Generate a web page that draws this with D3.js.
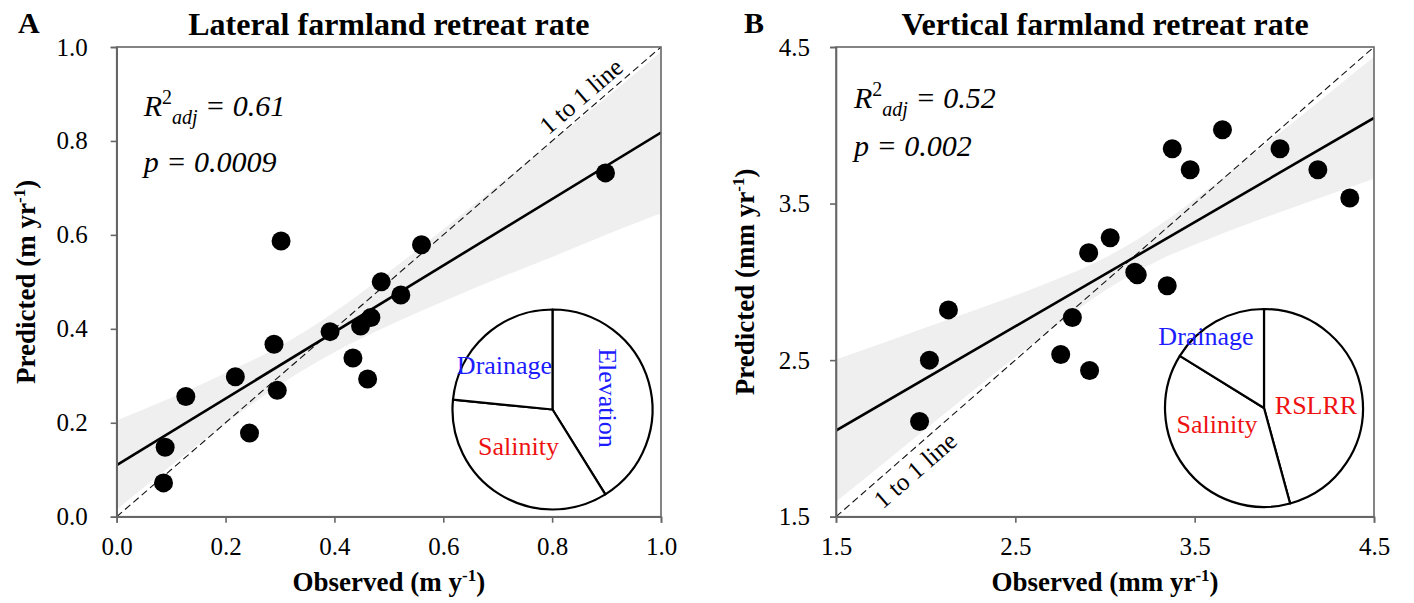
<!DOCTYPE html>
<html>
<head>
<meta charset="utf-8">
<script src="https://cdnjs.cloudflare.com/ajax/libs/d3/7.8.5/d3.min.js"></script>
<style>
  body { margin: 0; background: #fff; }
  svg { display: block; }
  text { font-family: "Liberation Serif", "Times New Roman", Times, "DejaVu Serif", serif; }
</style>
</head>
<body>
<svg id="chart" width="1414" height="603"></svg>
<script>
// ---- panel A: lateral retreat (m/yr) ----
let latObs  = [0.086, 0.089, 0.127, 0.218, 0.244, 0.289, 0.295, 0.302, 0.392, 0.434, 0.448, 0.461, 0.467, 0.486, 0.522, 0.560, 0.898];
let latPred = [0.072, 0.148, 0.256, 0.298, 0.178, 0.367, 0.269, 0.587, 0.394, 0.338, 0.406, 0.293, 0.424, 0.500, 0.472, 0.579, 0.732];
let latFitX = [0, 1];
let latFitY = [0.110, 0.818];
let latBandX  = [0, 0.1, 0.2, 0.3, 0.4, 0.5, 0.6, 0.7, 0.8, 0.9, 1.0];
let latBandLo = [0.015, 0.109, 0.198, 0.281, 0.350, 0.407, 0.458, 0.507, 0.553, 0.601, 0.646];
let latBandHi = [0.205, 0.253, 0.306, 0.363, 0.436, 0.521, 0.612, 0.705, 0.799, 0.893, 0.990];
let latTicks = [0, 0.2, 0.4, 0.6, 0.8, 1.0];
let latPieLabels = ['Elevation', 'Salinity', 'Drainage'];
let latPieValues = [41.1, 35.4, 23.4];

// ---- panel B: vertical retreat (mm/yr) ----
let vertObs  = [1.966, 2.021, 2.127, 2.753, 2.818, 2.909, 2.914, 3.029, 3.166, 3.180, 3.347, 3.375, 3.475, 3.655, 3.976, 4.187, 4.365];
let vertPred = [2.108, 2.500, 2.821, 2.536, 2.772, 3.186, 2.434, 3.282, 3.062, 3.045, 2.975, 3.850, 3.716, 3.972, 3.850, 3.716, 3.536];
let vertFitX = [1.5, 4.5];
let vertFitY = [2.050, 4.047];
let vertBandX  = [1.5, 1.8, 2.1, 2.4, 2.7, 3.0, 3.3, 3.6, 3.9, 4.2, 4.5];
let vertBandLo = [1.596, 1.874, 2.152, 2.429, 2.696, 2.944, 3.138, 3.284, 3.414, 3.537, 3.659];
let vertBandHi = [2.504, 2.626, 2.748, 2.871, 3.002, 3.154, 3.360, 3.614, 3.884, 4.159, 4.437];
let vertTicks = [1.5, 2.5, 3.5, 4.5];
let vertPieLabels = ['RSLRR', 'Salinity', 'Drainage'];
let vertPieValues = [45.8, 38.1, 16.2];

let BLUE = '#1c1cff', RED = '#ee1111';
let SERIF = '"Liberation Serif", "Times New Roman", Times, "DejaVu Serif", serif';

let svg = d3.select('#chart');

function panel(o) {
    let x = d3.scaleLinear().domain(o.domain).range([o.left, o.right]);
    let y = d3.scaleLinear().domain(o.domain).range([o.bottom, o.top]);
    let g = svg.append('g').attr('font-family', SERIF);

    let clipId = 'clip' + o.letter;
    svg.append('defs').append('clipPath').attr('id', clipId)
        .append('rect')
        .attr('x', o.left).attr('y', o.top)
        .attr('width', o.right - o.left).attr('height', o.bottom - o.top);
    let plot = g.append('g').attr('clip-path', `url(#${clipId})`);

    // confidence band
    let band = o.bandX.map((d, i) => ({x: d, lo: o.bandLo[i], hi: o.bandHi[i]}));
    plot.append('path')
        .datum(band)
        .attr('fill', '#efefef')
        .attr('d', d3.area().curve(d3.curveMonotoneX)
            .x(d => x(d.x)).y0(d => y(d.lo)).y1(d => y(d.hi)));

    // 1:1 line
    plot.append('line')
        .attr('x1', x(o.domain[0])).attr('y1', y(o.domain[0]))
        .attr('x2', x(o.domain[1])).attr('y2', y(o.domain[1]))
        .attr('stroke', '#111').attr('stroke-width', 1.1)
        .attr('stroke-dasharray', '7,4');

    // fitted line
    plot.append('line')
        .attr('x1', x(o.fitX[0])).attr('y1', y(o.fitY[0]))
        .attr('x2', x(o.fitX[1])).attr('y2', y(o.fitY[1]))
        .attr('stroke', '#000').attr('stroke-width', 2.6);

    // frame
    g.append('rect')
        .attr('x', o.left).attr('y', o.top)
        .attr('width', o.right - o.left).attr('height', o.bottom - o.top)
        .attr('fill', 'none').attr('stroke', '#666').attr('stroke-width', 1.6);

    // axes
    let xa = g.append('g').attr('transform', `translate(0,${o.bottom})`)
        .call(d3.axisBottom(x).tickValues(o.ticks).tickFormat(d3.format('.1f'))
            .tickSize(6).tickPadding(15));
    let ya = g.append('g').attr('transform', `translate(${o.left},0)`)
        .call(d3.axisLeft(y).tickValues(o.ticks).tickFormat(d3.format('.1f'))
            .tickSize(6).tickPadding(o.yPad));
    [xa, ya].forEach(a => {
        a.attr('font-family', SERIF).attr('font-size', 25);
        a.select('.domain').attr('stroke', '#666').attr('stroke-width', 1.6);
        a.selectAll('.tick line').attr('stroke', '#666').attr('stroke-width', 1.6);
        a.selectAll('.tick text').attr('fill', '#000');
    });

    // points
    g.append('g').selectAll('circle')
        .data(o.obs.map((d, i) => [d, o.pred[i]]))
        .join('circle')
        .attr('cx', d => x(d[0])).attr('cy', d => y(d[1]))
        .attr('r', 9.5).attr('fill', '#000');

    // 1 to 1 label
    let ang = Math.atan2(o.bottom - o.top, o.right - o.left) * 180 / Math.PI;
    g.append('text')
        .attr('transform', `translate(${x(o.oneAt)},${y(o.oneAt)}) rotate(${-ang})`)
        .attr('y', o.oneOff)
        .attr('text-anchor', 'middle')
        .attr('dominant-baseline', 'central')
        .attr('font-size', 25)
        .text('1 to 1 line');

    // stats
    let st = g.append('text')
        .attr('x', o.left + o.statDx).attr('y', o.statY1)
        .attr('font-size', 30).attr('font-style', 'italic');
    st.append('tspan').text('R');
    st.append('tspan').attr('dy', -12).attr('font-size', 20).attr('font-style', 'normal').text('2');
    st.append('tspan').attr('dy', 20).attr('font-size', 20).text('adj');
    st.append('tspan').attr('dy', -8).text(' = ' + o.r2);
    g.append('text')
        .attr('x', o.left + o.statDx).attr('y', o.statY2)
        .attr('font-size', 30).attr('font-style', 'italic')
        .text('p = ' + o.p);

    // titles
    g.append('text')
        .attr('x', (o.left + o.right) / 2).attr('y', 35)
        .attr('text-anchor', 'middle')
        .attr('font-size', 32).attr('font-weight', 'bold')
        .text(o.title);
    g.append('text')
        .attr('x', o.letterX).attr('y', 33)
        .attr('font-size', 30).attr('font-weight', 'bold')
        .text(o.letter);

    // axis titles
    let xl = g.append('text')
        .attr('x', (o.left + o.right) / 2).attr('y', 591)
        .attr('text-anchor', 'middle')
        .attr('font-size', 27).attr('font-weight', 'bold');
    xl.append('tspan').text(o.xUnitA);
    xl.append('tspan').attr('dy', -10).attr('font-size', 17).text('-1');
    xl.append('tspan').attr('dy', 10).text(')');

    let yl = g.append('text')
        .attr('transform', `translate(${o.yLabelX},${(o.top + o.bottom) / 2}) rotate(-90)`)
        .attr('text-anchor', 'middle')
        .attr('font-size', 27).attr('font-weight', 'bold');
    yl.append('tspan').text(o.yUnitA);
    yl.append('tspan').attr('dy', -10).attr('font-size', 17).text('-1');
    yl.append('tspan').attr('dy', 10).text(')');

    // pie inset
    let pie = d3.pie().sort(null).startAngle(0).endAngle(2 * Math.PI);
    let arc = d3.arc().innerRadius(0).outerRadius(o.pieR);
    let pg = g.append('g').attr('transform', `translate(${o.pieCx},${o.pieCy})`);
    pg.selectAll('path')
        .data(pie(o.pieValues))
        .join('path')
        .attr('d', arc)
        .attr('fill', '#fff')
        .attr('stroke', '#000').attr('stroke-width', 2.2)
        .attr('stroke-linejoin', 'round');
    o.pieLabels.forEach((lab, i) => {
        let p = o.piePos[i];
        pg.append('text')
            .attr('transform', `translate(${p[0]},${p[1]}) rotate(${p[2]})`)
            .attr('text-anchor', 'middle')
            .attr('fill', o.pieColors[i])
            .attr('font-size', 26)
            .text(lab);
    });
}

panel({
    letter: 'A', letterX: 18, title: 'Lateral farmland retreat rate',
    domain: [0, 1], ticks: latTicks,
    left: 116.7, right: 661, top: 47, bottom: 516.7, yPad: 23,
    obs: latObs, pred: latPred, fitX: latFitX, fitY: latFitY,
    bandX: latBandX, bandLo: latBandLo, bandHi: latBandHi,
    oneAt: 0.871, oneOff: -15,
    r2: '0.61', p: '0.0009', statDx: 27, statY1: 116, statY2: 172,
    xUnitA: 'Observed (m y', yUnitA: 'Predicted (m yr', yLabelX: 35,
    pieCx: 552.5, pieCy: 409.5, pieR: 100,
    pieValues: latPieValues, pieLabels: latPieLabels,
    pieColors: [BLUE, RED, BLUE],
    piePos: [[46.5, -11.5, 90], [-34, 45.5, 0], [-48, -35.5, 0]]
});

panel({
    letter: 'B', letterX: 744, title: 'Vertical farmland retreat rate',
    domain: [1.5, 4.5], ticks: vertTicks,
    left: 836, right: 1374, top: 47, bottom: 516.7, yPad: 20,
    obs: vertObs, pred: vertPred, fitX: vertFitX, fitY: vertFitY,
    bandX: vertBandX, bandLo: vertBandLo, bandHi: vertBandHi,
    oneAt: 1.879, oneOff: 17,
    r2: '0.52', p: '0.002', statDx: 18, statY1: 108, statY2: 156,
    xUnitA: 'Observed (mm yr', yUnitA: 'Predicted (mm yr', yLabelX: 754,
    pieCx: 1264, pieCy: 408, pieR: 99,
    pieValues: vertPieValues, pieLabels: vertPieLabels,
    pieColors: [RED, RED, BLUE],
    piePos: [[52, 6, 0], [-47, 25, 0], [-58, -63.5, 0]]
});
</script>
</body>
</html>
